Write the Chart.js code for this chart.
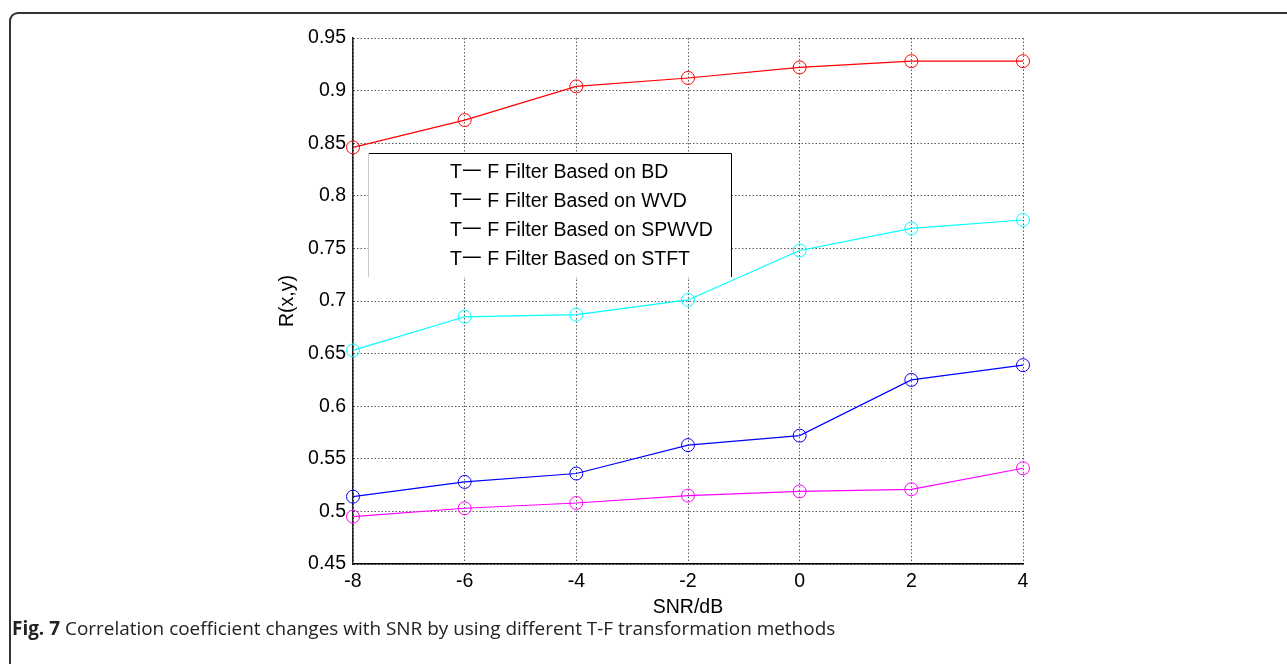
<!DOCTYPE html>
<html>
<head>
<meta charset="utf-8">
<script src="https://cdn.jsdelivr.net/npm/chart.js@4.4.1/dist/chart.umd.min.js"></script>
<style>
  html, body { margin:0; padding:0; background:#fff; }
  body { width:1287px; height:664px; position:relative; overflow:hidden; }
  #frame { position:absolute; left:9px; top:12px; width:1290px; height:660px;
           border-left:2px solid #333; border-top:2px solid #333; border-radius:9px 0 0 9px; box-sizing:border-box; }
  #wrap { position:absolute; left:0; top:0; width:1287px; height:664px; }
  #caption { position:absolute; left:12px; top:615px; font-family:"Open Sans", sans-serif; font-size:15px; color:#222; white-space:nowrap; }
  #caption b { font-weight:700; }
</style>
</head>
<body>
<div id="frame"></div>
<div id="wrap"><canvas id="c" width="1287" height="664"></canvas></div>
<div id="caption"><b>Fig. 7</b> Correlation coefficient changes with SNR by using different T-F transformation methods</div>
<script>
const snr = [-8, -6, -4, -2, 0, 2, 4];
const xTickValues = [-8, -6, -4, -2, 0, 2, 4];
const yTickValues = [0.45, 0.5, 0.55, 0.6, 0.65, 0.7, 0.75, 0.8, 0.85, 0.9, 0.95];
const seriesLabels = [
  "T\u4e00 F Filter Based on BD",
  "T\u4e00 F Filter Based on WVD",
  "T\u4e00 F Filter Based on SPWVD",
  "T\u4e00 F Filter Based on STFT"
];
const redVals     = [0.846, 0.872, 0.904, 0.912, 0.922, 0.928, 0.928];
const cyanVals    = [0.653, 0.685, 0.687, 0.701, 0.748, 0.769, 0.777];
const blueVals    = [0.514, 0.528, 0.536, 0.563, 0.572, 0.625, 0.639];
const magentaVals = [0.495, 0.503, 0.508, 0.515, 0.519, 0.521, 0.541];
const colors = ["#ff0000", "#00ffff", "#0000ff", "#ff00ff"];

const allVals = [redVals, cyanVals, blueVals, magentaVals];
const datasets = allVals.map((vals, i) => ({
  label: seriesLabels[i],
  data: snr.map((x, j) => ({x: x, y: vals[j]})),
  borderColor: colors[i],
  backgroundColor: 'rgba(0,0,0,0)',
  borderWidth: 1.2,
  pointStyle: 'circle',
  pointRadius: 6.5,
  pointBorderWidth: 1,
  pointBorderColor: colors[i],
  pointBackgroundColor: 'rgba(0,0,0,0)',
  tension: 0,
  clip: false
}));

const FONT = '"Liberation Sans", Arial, sans-serif';
const FS = 19.5;

const legendBox = {
  id: 'legendBox',
  afterDatasetsDraw(chart) {
    const ctx = chart.ctx;
    const x0 = 368, y0 = 153, x1 = 731, y1 = 277;
    ctx.save();
    ctx.fillStyle = '#fff';
    ctx.fillRect(x0, y0, x1 - x0, y1 - y0);
    ctx.lineWidth = 1;
    ctx.strokeStyle = '#000';
    ctx.beginPath();
    ctx.moveTo(x0, y0 + 0.5); ctx.lineTo(x1 + 0.5, y0 + 0.5); ctx.lineTo(x1 + 0.5, y1);
    ctx.stroke();
    ctx.strokeStyle = '#c8c8c8';
    ctx.beginPath();
    ctx.moveTo(x0 + 0.5, y0); ctx.lineTo(x0 + 0.5, y1);
    ctx.stroke();
    ctx.fillStyle = '#000';
    ctx.font = FS + 'px ' + FONT;
    ctx.textBaseline = 'middle';
    ctx.textAlign = 'left';
    chart.data.datasets.forEach((ds, i) => {
      ctx.fillText(ds.label, 450, 173 + i * 29);
    });
    ctx.restore();
  }
};

new Chart(document.getElementById('c'), {
  type: 'line',
  data: { datasets },
  plugins: [legendBox],
  options: {
    responsive: false,
    animation: false,
    events: [],
    layout: { padding: { left: 268, right: 264, top: 38, bottom: 42 } },
    plugins: { legend: { display: false }, tooltip: { enabled: false } },
    scales: {
      x: {
        type: 'linear',
        min: -8, max: 4,
        afterBuildTicks: (s) => { s.ticks = xTickValues.map(v => ({value: v})); },
        afterFit: (s) => { s.height = 58; },
        ticks: { color: '#000', font: { family: FONT, size: FS }, padding: 6, maxRotation: 0 },
        grid: { color: 'rgba(0,0,0,0.65)', lineWidth: 1, drawTicks: false },
        border: { display: true, color: '#000', width: 1.5, dash: [1.5, 2] },
        title: { display: true, text: 'SNR/dB', color: '#000', font: { family: FONT, size: FS }, padding: { top: 0, bottom: 3 } }
      },
      y: {
        type: 'linear',
        min: 0.45, max: 0.95,
        afterBuildTicks: (s) => { s.ticks = yTickValues.map(v => ({value: v})); },
        afterFit: (s) => { s.width = 85; },
        ticks: { color: '#000', font: { family: FONT, size: FS }, padding: 7,
                 callback: (v) => String(Number(v.toFixed(2))) },
        grid: { color: 'rgba(0,0,0,0.65)', lineWidth: 1, drawTicks: false },
        border: { display: true, color: '#222', width: 1.5, dash: [1.5, 2] },
        title: { display: true, text: 'R(x,y)', color: '#000', font: { family: FONT, size: FS }, padding: { top: 8, bottom: 0 } }
      }
    }
  }
});

(function(){
  const cap = document.getElementById('caption');
  const target = 824;
  const w = cap.getBoundingClientRect().width;
  if (w > 0) cap.style.fontSize = (15 * target / w).toFixed(2) + 'px';
})();
</script>
</body>
</html>
